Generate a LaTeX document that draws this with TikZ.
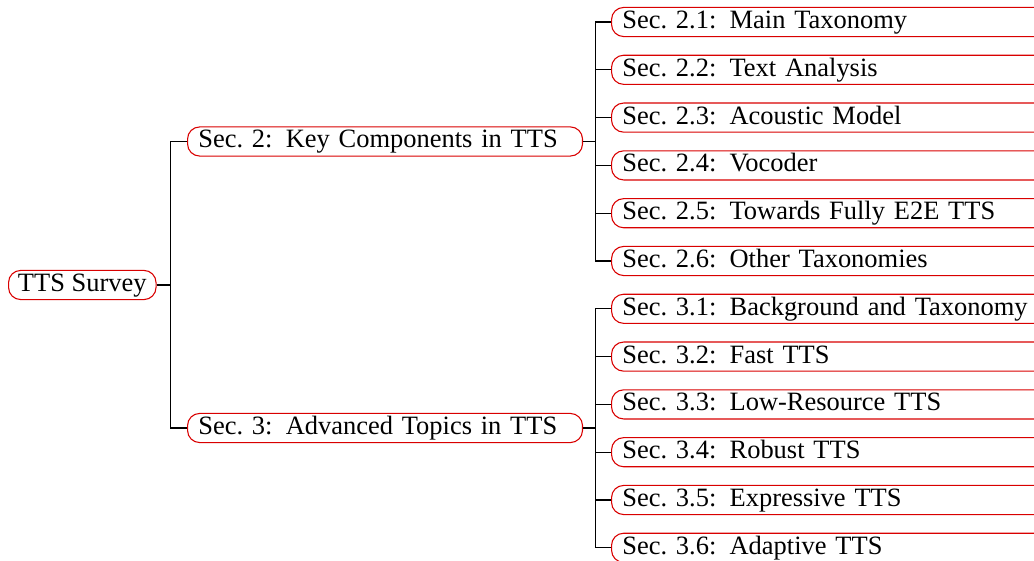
\documentclass[tikz,border=0pt]{standalone}
\usepackage{fontspec}
\setmainfont{Liberation Serif}
\usetikzlibrary{calc}

\tikzset{
  topic/.style={draw=red!85!black, rounded corners=4.5pt, line width=0.4pt,
    font=\fontsize{9.8pt}{12pt}\selectfont,
    text height=6.9pt, text depth=2.1pt, inner ysep=0.9pt, inner xsep=4pt,
    anchor=west, align=left},
  sec/.style={topic, text width=138.3pt},
  subsec/.style={topic, text width=190pt},
  branch/.style={draw=black, line width=0.4pt},
}

\begin{document}
\begin{tikzpicture}[x={(0.3704pt,0)}, y={(0,-0.3704pt)}]
	%% page frame, in pixels of the reference
	\useasboundingbox (0,0) rectangle (1034,561);
	\clip (0,0) rectangle (1034,561);

	\def\gap{47.8} % distance between two subsections
	\def\top{22}   % first subsection

	\node[topic, inner xsep=3.5pt] (survey) at (8,285) {TTS Survey};

	\node[sec] (sec2) at (187,141.5) {Sec.~2: Key Components in TTS};
	\node[sec] (sec3) at (187,428) {Sec.~3: Advanced Topics in TTS};

	\foreach \i/\t in {1/{Sec.~2.1: Main Taxonomy},
	                   2/{Sec.~2.2: Text Analysis},
	                   3/{Sec.~2.3: Acoustic Model},
	                   4/{Sec.~2.4: Vocoder},
	                   5/{Sec.~2.5: Towards Fully E2E TTS},
	                   6/{Sec.~2.6: Other Taxonomies},
	                   7/{Sec.~3.1: Background and Taxonomy},
	                   8/{Sec.~3.2: Fast TTS},
	                   9/{Sec.~3.3: Low-Resource TTS},
	                   10/{Sec.~3.4: Robust TTS},
	                   11/{Sec.~3.5: Expressive TTS},
	                   12/{Sec.~3.6: Adaptive TTS}}
		\node[subsec] (sub\i) at (611,{\top+\gap*(\i-1)}) {\t};

	% branches
	\draw[branch] (survey.east) -- ++(14,0) |- (sec2.west);
	\draw[branch] (survey.east) -- ++(14,0) |- (sec3.west);
	\foreach \i in {1,...,6}
		\draw[branch] (sec2.east) -- ++(12,0) |- (sub\i.west);
	\foreach \i in {7,...,12}
		\draw[branch] (sec3.east) -- ++(12,0) |- (sub\i.west);

\end{tikzpicture}
\end{document}
